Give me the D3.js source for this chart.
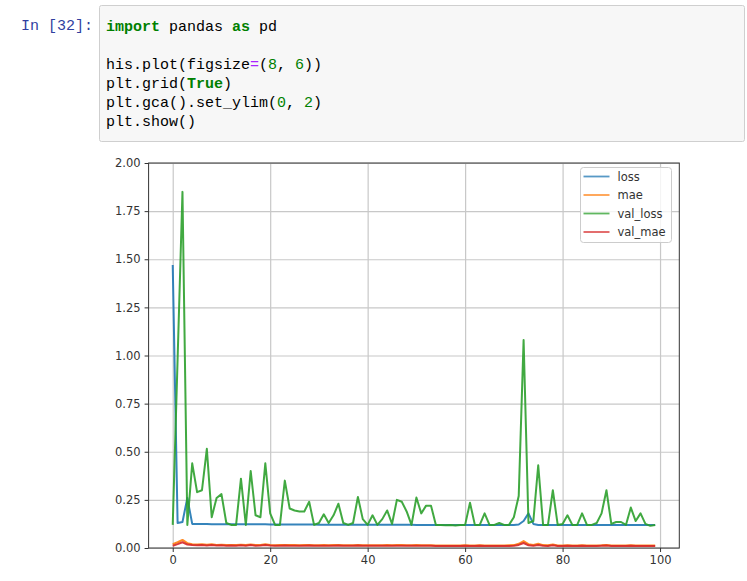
<!DOCTYPE html>
<html>
<head>
<meta charset="utf-8">
<script src="https://cdn.jsdelivr.net/npm/d3@7"></script>
<style>
  body { margin: 0; background: #fff; }
  svg { display: block; }
  .tick text { font-family: "DejaVu Sans", sans-serif; font-size: 11.5px; fill: #333; }
  .code { font-family: "Liberation Mono", "DejaVu Sans Mono", monospace; font-size: 15px; }
</style>
</head>
<body>
<script>
// history from model.fit
const loss = [1.47, 0.13, 0.135, 0.26, 0.125, 0.125, 0.125, 0.125, 0.124, 0.124,
  0.124, 0.124, 0.124, 0.123, 0.123, 0.123, 0.123, 0.123, 0.123, 0.123,
  0.122, 0.122, 0.122, 0.122, 0.122, 0.122, 0.122, 0.122, 0.122, 0.122,
  0.121, 0.121, 0.121, 0.121, 0.121, 0.121, 0.121, 0.121, 0.121, 0.121,
  0.121, 0.121, 0.121, 0.121, 0.121, 0.121, 0.121, 0.121, 0.121, 0.121,
  0.12, 0.12, 0.12, 0.12, 0.12, 0.12, 0.12, 0.12, 0.12, 0.12,
  0.12, 0.12, 0.12, 0.12, 0.12, 0.12, 0.12, 0.12, 0.12, 0.12,
  0.12, 0.122, 0.14, 0.18, 0.125, 0.12, 0.12, 0.12, 0.12, 0.12,
  0.12, 0.12, 0.12, 0.12, 0.12, 0.12, 0.12, 0.12, 0.12, 0.12,
  0.12, 0.12, 0.12, 0.12, 0.12, 0.12, 0.12, 0.12, 0.12, 0.12];

const mae = [0.02, 0.03, 0.042, 0.025, 0.02, 0.018, 0.02, 0.017, 0.019, 0.016,
  0.017, 0.015, 0.016, 0.015, 0.017, 0.015, 0.018, 0.015, 0.016, 0.019,
  0.016, 0.014, 0.015, 0.016, 0.015, 0.015, 0.014, 0.015, 0.016, 0.014,
  0.014, 0.015, 0.014, 0.015, 0.015, 0.014, 0.014, 0.014, 0.015, 0.014,
  0.014, 0.014, 0.014, 0.014, 0.015, 0.014, 0.015, 0.015, 0.014, 0.014,
  0.015, 0.014, 0.014, 0.014, 0.013, 0.013, 0.013, 0.013, 0.013, 0.013,
  0.014, 0.013, 0.013, 0.014, 0.013, 0.013, 0.013, 0.013, 0.013, 0.014,
  0.015, 0.022, 0.036, 0.02, 0.016, 0.022, 0.015, 0.014, 0.018, 0.013,
  0.013, 0.014, 0.013, 0.013, 0.014, 0.013, 0.013, 0.013, 0.014, 0.016,
  0.013, 0.013, 0.013, 0.013, 0.014, 0.013, 0.013, 0.013, 0.013, 0.013];

const val_loss = [0.12, 0.98, 1.85, 0.12, 0.44, 0.29, 0.30, 0.515, 0.16, 0.26,
  0.28, 0.13, 0.12, 0.12, 0.36, 0.12, 0.40, 0.17, 0.16, 0.44,
  0.18, 0.12, 0.12, 0.35, 0.205, 0.195, 0.19, 0.19, 0.24, 0.12,
  0.13, 0.175, 0.13, 0.17, 0.23, 0.13, 0.12, 0.13, 0.265, 0.15,
  0.12, 0.17, 0.12, 0.15, 0.195, 0.125, 0.25, 0.24, 0.19, 0.12,
  0.262, 0.18, 0.22, 0.22, 0.12, 0.12, 0.118, 0.12, 0.117, 0.12,
  0.12, 0.235, 0.12, 0.12, 0.18, 0.12, 0.12, 0.13, 0.12, 0.12,
  0.16, 0.27, 1.08, 0.13, 0.14, 0.43, 0.12, 0.12, 0.30, 0.12,
  0.125, 0.17, 0.12, 0.12, 0.18, 0.12, 0.12, 0.13, 0.18, 0.30,
  0.125, 0.135, 0.135, 0.12, 0.21, 0.14, 0.18, 0.125, 0.115, 0.12];

const val_mae = [0.012, 0.02, 0.03, 0.018, 0.015, 0.014, 0.016, 0.013, 0.015, 0.013,
  0.014, 0.012, 0.013, 0.012, 0.014, 0.012, 0.015, 0.012, 0.013, 0.016,
  0.013, 0.012, 0.012, 0.013, 0.012, 0.012, 0.012, 0.012, 0.013, 0.012,
  0.012, 0.012, 0.012, 0.012, 0.013, 0.012, 0.012, 0.012, 0.013, 0.012,
  0.012, 0.012, 0.012, 0.012, 0.012, 0.012, 0.012, 0.012, 0.012, 0.012,
  0.012, 0.012, 0.012, 0.012, 0.011, 0.011, 0.011, 0.011, 0.011, 0.011,
  0.012, 0.011, 0.011, 0.012, 0.011, 0.011, 0.011, 0.011, 0.011, 0.011,
  0.012, 0.016, 0.026, 0.014, 0.012, 0.016, 0.012, 0.011, 0.014, 0.011,
  0.011, 0.012, 0.011, 0.011, 0.012, 0.011, 0.011, 0.011, 0.012, 0.013,
  0.011, 0.011, 0.011, 0.011, 0.012, 0.011, 0.011, 0.011, 0.011, 0.011];

const seriesNames = ['loss', 'mae', 'val_loss', 'val_mae'];
const seriesValues = [loss, mae, val_loss, val_mae];
const colors = ['#1f77b4', '#ff7f0e', '#2ca02c', '#d62728'];
const xTicks = [0, 20, 40, 60, 80, 100];
const yTicks = [0, 0.25, 0.5, 0.75, 1.0, 1.25, 1.5, 1.75, 2.0];

const codeLines = [
  [['import', '#008000', 'bold'], [' pandas ', '#000'], ['as', '#008000', 'bold'], [' pd', '#000']],
  [],
  [['his.plot(figsize', '#000'], ['=', '#aa22ff'], ['(', '#000'], ['8', '#008000'], [', ', '#000'], ['6', '#008000'], ['))', '#000']],
  [['plt.grid(', '#000'], ['True', '#008000', 'bold'], [')', '#000']],
  [['plt.gca().set_ylim(', '#000'], ['0', '#008000'], [', ', '#000'], ['2', '#008000'], [')', '#000']],
  [['plt.show()', '#000']]
];

const W = 747, H = 581;
const svg = d3.select('body').append('svg').attr('width', W).attr('height', H);
svg.append('rect').attr('width', W).attr('height', H).attr('fill', '#fff');

// notebook cell
svg.append('text').attr('class', 'code').attr('x', 21).attr('y', 30)
  .attr('fill', '#303f9f').text('In [32]:');
svg.append('rect').attr('x', 99.5).attr('y', 5.5).attr('width', 645).attr('height', 136)
  .attr('rx', 2).attr('fill', '#f7f7f7').attr('stroke', '#cfcfcf');
codeLines.forEach((line, i) => {
  const t = svg.append('text').attr('class', 'code').attr('x', 106).attr('y', 31 + i * 19)
    .attr('xml:space', 'preserve');
  line.forEach(([s, c, w]) => {
    t.append('tspan').attr('fill', c).attr('font-weight', w || 'normal').text(s);
  });
});

// axes
const plotLeft = 148.6, plotRight = 679.3, plotTop = 163, plotBottom = 548;
const x = d3.scaleLinear().domain([-4.95, 103.95]).range([plotLeft, plotRight]);
const y = d3.scaleLinear().domain([0, 2]).range([plotBottom, plotTop]);

const grid = svg.append('g');
grid.append('g').attr('transform', `translate(0,${plotBottom})`)
  .call(d3.axisBottom(x).tickValues(xTicks).tickSize(-(plotBottom - plotTop)).tickFormat(''))
  .call(g => g.select('.domain').remove())
  .call(g => g.selectAll('line').attr('stroke', '#c8c8c8').attr('stroke-width', 1.2));
grid.append('g').attr('transform', `translate(${plotLeft},0)`)
  .call(d3.axisLeft(y).tickValues(yTicks).tickSize(-(plotRight - plotLeft)).tickFormat(''))
  .call(g => g.select('.domain').remove())
  .call(g => g.selectAll('line').attr('stroke', '#c8c8c8').attr('stroke-width', 1.2));

const line = d3.line().x((d, i) => x(i)).y(d => y(d));
const plot = svg.append('g');
seriesValues.forEach((vals, k) => {
  plot.append('path').datum(vals).attr('d', line)
    .attr('fill', 'none').attr('stroke', colors[k]).attr('stroke-width', 2)
    .attr('stroke-linejoin', 'round').attr('opacity', 0.9);
});

svg.append('g').attr('transform', `translate(0,${plotBottom})`)
  .call(d3.axisBottom(x).tickValues(xTicks).tickSize(4).tickPadding(4).tickFormat(d3.format('d')))
  .call(g => g.select('.domain').remove())
  .call(g => g.selectAll('line').attr('stroke', '#333'));
svg.append('g').attr('transform', `translate(${plotLeft},0)`)
  .call(d3.axisLeft(y).tickValues(yTicks).tickSize(4).tickPadding(4).tickFormat(d3.format('.2f')))
  .call(g => g.select('.domain').remove())
  .call(g => g.selectAll('line').attr('stroke', '#333'));

svg.append('rect').attr('x', plotLeft).attr('y', plotTop)
  .attr('width', plotRight - plotLeft).attr('height', plotBottom - plotTop)
  .attr('fill', 'none').attr('stroke', '#333').attr('stroke-width', 1);

// legend
const lg = svg.append('g').attr('transform', 'translate(580.5,167.5)');
lg.append('rect').attr('width', 91).attr('height', 75).attr('rx', 3)
  .attr('fill', '#fff').attr('fill-opacity', 0.8).attr('stroke', '#cccccc');
seriesNames.forEach((name, k) => {
  const yy = 9 + k * 18.5;
  lg.append('line').attr('x1', 3).attr('x2', 29).attr('y1', yy).attr('y2', yy)
    .attr('stroke', colors[k]).attr('stroke-width', 1.8).attr('opacity', 0.75);
  lg.append('text').attr('x', 37).attr('y', yy + 4)
    .attr('font-family', '"DejaVu Sans", sans-serif').attr('font-size', 11.5).attr('fill', '#333')
    .text(name);
});
</script>
</body>
</html>
